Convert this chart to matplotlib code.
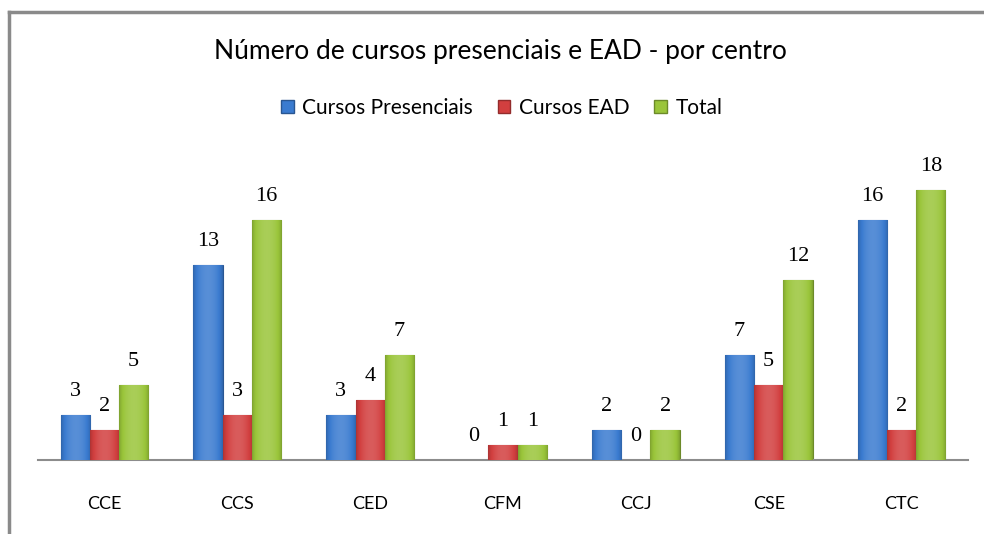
import numpy as np
import matplotlib.pyplot as plt
from matplotlib.colors import to_rgb
from matplotlib.lines import Line2D
from matplotlib.patches import Patch

centros = ["CCE", "CCS", "CED", "CFM", "CCJ", "CSE", "CTC"]
presenciais = [3, 13, 3, 0, 2, 7, 16]
ead = [2, 3, 4, 1, 0, 5, 2]
total = [5, 16, 7, 1, 2, 12, 18]

series = [
    ("Cursos Presenciais", presenciais, "#3A7BD0"),
    ("Cursos EAD", ead, "#D23F3F"),
    ("Total", total, "#9AC53A"),
]


def shade(color, f):
    r, g, b = to_rgb(color)
    if f >= 1:
        return tuple(c + (1 - c) * (f - 1) for c in (r, g, b))
    return tuple(c * f for c in (r, g, b))


def gradient_bar(ax, bar, color):
    """Fill a bar with a horizontal light-in-the-middle gradient."""
    x0, y0 = bar.get_x(), bar.get_y()
    w, h = bar.get_width(), bar.get_height()
    if h <= 0:
        return
    t = np.linspace(0, 1, 64)
    prof = 0.8 + 0.35 * np.sin(np.pi * t) ** 0.6
    img = np.array([[shade(color, p) for p in prof]])
    im = ax.imshow(img, extent=[x0, x0 + w, y0, y0 + h], aspect="auto",
                   interpolation="bicubic", zorder=3)
    im.set_clip_path(bar)


fig = plt.figure(figsize=(9.84, 5.34), dpi=100)
ax = fig.add_axes([38 / 984, 1 - 460 / 534, 930 / 984, 300 / 534])

x = np.arange(len(centros))
width = 0.22
for i, (name, vals, col) in enumerate(series):
    pos = x + (i - 1) * width
    bars = ax.bar(pos, vals, width, color=col, edgecolor=shade(col, 0.7),
                  linewidth=0.8, zorder=2)
    for b in bars:
        gradient_bar(ax, b, col)
    for p, v in zip(pos, vals):
        ax.annotate(str(v), (p, v), xytext=(0, 10), textcoords="offset points",
                    ha="center", va="bottom", fontsize=16,
                    family="Liberation Serif", color="black")

ax.set_xlim(-0.5, len(centros) - 0.5)
ax.set_ylim(0, 20)
ax.set_xticks(x)
ax.set_xticklabels(centros, fontsize=13, family="Lato")
ax.tick_params(axis="x", length=0, pad=26)
ax.set_yticks([])
for s in ["top", "right", "left"]:
    ax.spines[s].set_visible(False)
ax.spines["bottom"].set_color("#8C8C8C")
ax.spines["bottom"].set_linewidth(1.5)
ax.patch.set_alpha(0)

fig.text(0.509, 1 - 52 / 534, "Número de cursos presenciais e EAD - por centro",
         ha="center", va="center", fontsize=19, family="Lato")

handles = [Patch(facecolor=c, edgecolor=shade(c, 0.7)) for _, _, c in series]
fig.legend(handles, [s[0] for s in series], loc="center",
           bbox_to_anchor=(0.51, 1 - 108 / 534), ncol=3, frameon=False,
           prop={"family": "Lato", "size": 15}, handlelength=0.6,
           handleheight=0.6, handletextpad=0.4, columnspacing=1.2)

# outer chart border (only top and left visible in the crop)
fig.add_artist(Line2D([9 / 984, 1], [1 - 12 / 534, 1 - 12 / 534],
                      color="#8A8A8A", lw=2.5, transform=fig.transFigure))
fig.add_artist(Line2D([9 / 984, 9 / 984], [0, 1 - 12 / 534],
                      color="#8A8A8A", lw=2.5, transform=fig.transFigure))

fig.savefig("out.png", dpi=100)
